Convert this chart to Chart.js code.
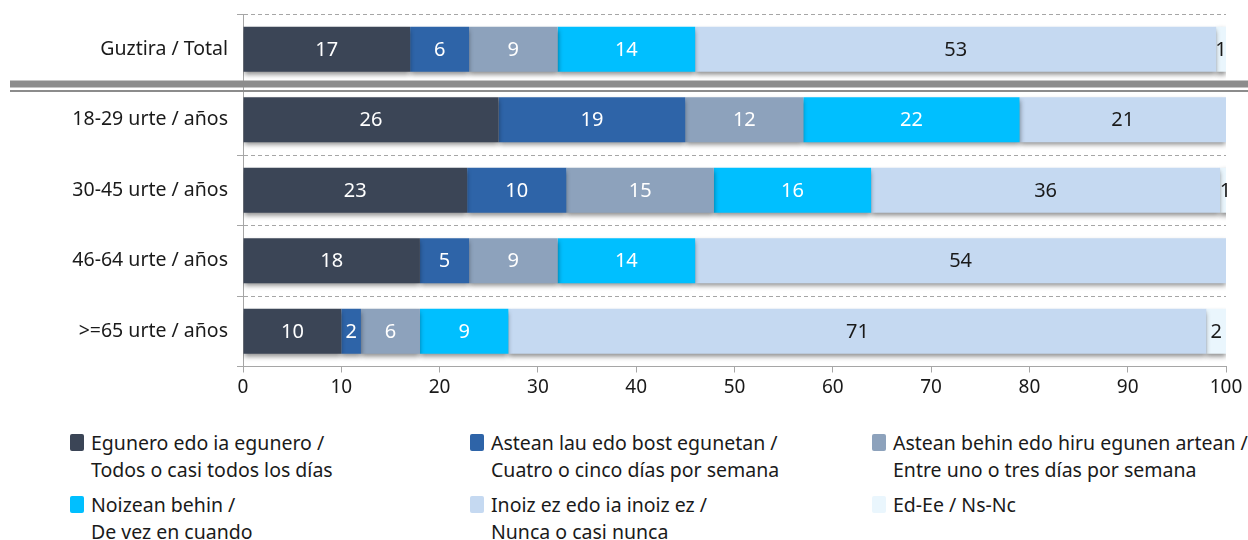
<!DOCTYPE html>
<html lang="eu">
<head>
  <meta charset="UTF-8" />
  <title>Maiztasuna adinaren arabera</title>
  <script src="https://cdn.jsdelivr.net/npm/chart.js"></script>
  <style>
    body {
      margin: 0;
      background: #fff;
      font-family: "Noto Sans", sans-serif;
      color: #1a1a1a;
    }
    #wrap {
      position: relative;
      width: 1248px;
      height: 540px;
    }
    #chartBox {
      position: absolute;
      left: 0;
      top: 0;
      width: 1248px;
      height: 410px;
    }
    .legend-item {
      position: absolute;
      font-size: 19.5px;
      line-height: 27px;
      padding-left: 21px;
      white-space: nowrap;
    }
    .legend-item span.box {
      position: absolute;
      left: 0;
      top: 5px;
      width: 14px;
      height: 17px;
      border-radius: 2px;
    }
  </style>
</head>
<body>
<div id="wrap">
  <div id="chartBox"><canvas id="freqChart"></canvas></div>
  <div id="legend"></div>
</div>

<script>
  const categories = ["Guztira / Total", "18-29 urte / años", "30-45 urte / años", "46-64 urte / años", ">=65 urte / años"];

  const seriesNames = [
    ["Egunero edo ia egunero /", "Todos o casi todos los días"],
    ["Astean lau edo bost egunetan /", "Cuatro o cinco días por semana"],
    ["Astean behin edo hiru egunen artean /", "Entre uno o tres días por semana"],
    ["Noizean behin /", "De vez en cuando"],
    ["Inoiz ez edo ia inoiz ez /", "Nunca o casi nunca"],
    ["Ed-Ee / Ns-Nc"]
  ];

  const egunero  = [17, 26, 22.8, 18, 10];
  const lauBost  = [6, 19, 10.1, 5, 2];
  const behinHiru = [9, 12, 15, 9, 6];
  const noizean  = [14, 22, 16, 14, 9];
  const inoiz    = [53, 21, 35.5, 54, 71];
  const edEe     = [1, 0, 1.1, 0, 2];

  const xTicks = [0, 10, 20, 30, 40, 50, 60, 70, 80, 90, 100];

  const colors = ["#3b4556", "#2e64a8", "#8da2bc", "#00bfff", "#c5d9f1", "#eaf6fd"];
  const labelColors = ["#fff", "#fff", "#fff", "#fff", "#1a1a1a", "#1a1a1a"];

  const allSeries = [egunero, lauBost, behinHiru, noizean, inoiz, edEe];

  // shadow under bars
  const shadowPlugin = {
    id: "barShadow",
    beforeDatasetsDraw(chart) {
      const ctx = chart.ctx;
      ctx.save();
      ctx.shadowColor = "rgba(0,0,0,0.45)";
      ctx.shadowBlur = 5;
      ctx.shadowOffsetY = 3;
    },
    afterDatasetsDraw(chart) {
      chart.ctx.restore();
    }
  };

  // values inside segments
  const valueLabels = {
    id: "valueLabels",
    afterDatasetsDraw(chart) {
      const ctx = chart.ctx;
      ctx.save();
      ctx.font = "20px 'Noto Sans'";
      ctx.textAlign = "center";
      ctx.textBaseline = "middle";
      chart.data.datasets.forEach((ds, i) => {
        const meta = chart.getDatasetMeta(i);
        meta.data.forEach((bar, j) => {
          const v = ds.data[j];
          if (!v) return;
          ctx.fillStyle = labelColors[i];
          ctx.fillText(String(Math.round(v)), (bar.x + bar.base) / 2, bar.y + 1);
        });
      });
      ctx.restore();
    }
  };

  // double separator between total and age groups
  const separator = {
    id: "separator",
    afterDraw(chart) {
      const ctx = chart.ctx;
      const y = chart.scales.y;
      const yMid = (y.getPixelForValue(0) + y.getPixelForValue(1)) / 2;
      ctx.save();
      ctx.fillStyle = "#8c8c8c";
      ctx.fillRect(10, yMid - 4, chart.width - 10, 7);
      ctx.fillRect(10, yMid + 5.5, chart.width - 10, 2);
      ctx.restore();
    }
  };

  new Chart(document.getElementById("freqChart"), {
    type: "bar",
    data: {
      labels: categories,
      datasets: allSeries.map((d, i) => ({
        label: seriesNames[i].join(" "),
        data: d,
        backgroundColor: colors[i],
        borderWidth: 0,
        categoryPercentage: 1,
        barPercentage: 0.64
      }))
    },
    plugins: [shadowPlugin, valueLabels, separator],
    options: {
      indexAxis: "y",
      responsive: true,
      maintainAspectRatio: false,
      animation: false,
      layout: { padding: { top: 14, right: 22, left: 0, bottom: 0 } },
      plugins: {
        legend: { display: false },
        tooltip: { enabled: false }
      },
      scales: {
        x: {
          stacked: true,
          min: 0,
          max: 100,
          afterBuildTicks(scale) {
            scale.ticks = xTicks.map(v => ({ value: v }));
          },
          afterFit(scale) { scale.height = 43.5; },
          grid: { drawOnChartArea: false, drawTicks: true, tickLength: 6, color: "#a6a6a6" },
          border: { color: "#a6a6a6", width: 1 },
          ticks: { color: "#1a1a1a", font: { family: "Noto Sans", size: 19 }, padding: 4 }
        },
        y: {
          stacked: true,
          afterFit(scale) {
            scale.width = 243;
            scale.paddingTop = 0;
            scale.paddingBottom = 0;
          },
          grid: { offset: true, drawTicks: true, tickLength: 6, color: "#a6a6a6", lineWidth: 1 },
          border: { color: "#a6a6a6", width: 1, dash: [4, 3] },
          ticks: { color: "#1a1a1a", font: { family: "Noto Sans", size: 19.5 }, padding: 9 }
        }
      }
    }
  });

  // legend in 3 columns
  const legendX = [70, 470, 872];
  const legendY = [429, 491];
  const legendEl = document.getElementById("legend");
  seriesNames.forEach((lines, i) => {
    const item = document.createElement("div");
    item.className = "legend-item";
    item.style.left = legendX[i % 3] + "px";
    item.style.top = legendY[Math.floor(i / 3)] + "px";
    item.innerHTML = '<span class="box" style="background:' + colors[i] + '"></span>' + lines.join("<br>");
    legendEl.appendChild(item);
  });
</script>
</body>
</html>
